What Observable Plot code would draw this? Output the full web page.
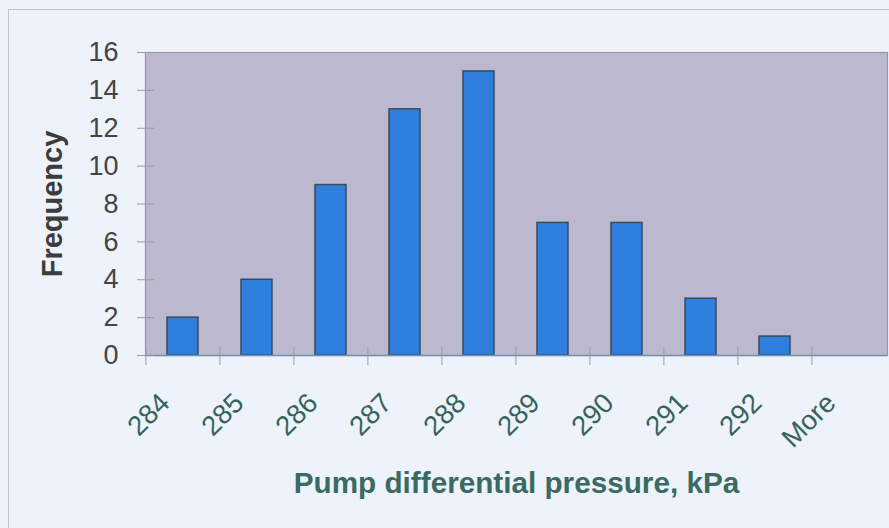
<!DOCTYPE html>
<html>
<head>
<meta charset="utf-8">
<script src="https://cdn.jsdelivr.net/npm/d3@7"></script>
<script src="https://cdn.jsdelivr.net/npm/@observablehq/plot@0.6"></script>
<style>
  html, body { margin: 0; padding: 0; background: #eef2fb; }
  #wrap { position: relative; width: 889px; height: 528px; overflow: hidden; }
  #border { position: absolute; left: 8px; top: 9px; width: 900px; height: 540px;
            border-left: 1.5px solid #c3c3cc; border-top: 1.5px solid #c3c3cc; pointer-events: none; }
</style>
</head>
<body>
<div id="wrap"><div id="border"></div></div>
<script>
const categories = ["284", "285", "286", "287", "288", "289", "290", "291", "292", "More"];
const frequencies = [2, 4, 9, 13, 15, 7, 7, 3, 1, 0];
const yTicks = [0, 2, 4, 6, 8, 10, 12, 14, 16];
const xTitle = "Pump differential pressure, kPa";
const yTitle = "Frequency";

const data = categories.map((c, i) => ({bin: c, freq: frequencies[i]}));

const W = 889, H = 528;
const mL = 145, mR = 2, mT = 52, mB = 173;
const step = (W - mL - mR) / categories.length;

const chart = Plot.plot({
  width: W,
  height: H,
  marginLeft: mL,
  marginRight: mR,
  marginTop: mT,
  marginBottom: mB,
  style: {background: "#eef2fb", fontFamily: "'Liberation Sans', Arial, sans-serif", overflow: "visible"},
  x: {domain: categories, paddingInner: 0.58, paddingOuter: 0.29, axis: null},
  y: {domain: [0, 16], axis: null},
  marks: [
    Plot.frame({fill: "#bcb8ce", stroke: "#9593b8", strokeWidth: 1.2}),
    Plot.barY(data, {x: "bin", y: "freq", fill: "#2f80de", stroke: "#3b4a58", strokeWidth: 1.5}),
    Plot.ruleY([0], {stroke: "#6f93b0", strokeWidth: 1.5}),
    // y tick marks crossing the axis
    Plot.axisY({ticks: yTicks, tickSize: 17, dx: 9, tickFormat: () => "", stroke: "#9a9aa6", label: null}),
    // y tick labels
    Plot.axisY({ticks: yTicks, tickSize: 0, tickPadding: 27, fontSize: 27, fill: "#444444", label: null}),
    // x tick marks at bin boundaries, crossing the axis
    Plot.axisX({tickSize: 18, dx: -step / 2, dy: -8, tickFormat: () => "", stroke: "#9a9aa6", label: null}),
    // x tick labels
    Plot.text(categories, {x: d => d, frameAnchor: "bottom", dy: 43, dx: -18, rotate: -45,
      textAnchor: "end", lineAnchor: "middle", fontSize: 27.5, fill: "#35635e"}),
    // axis titles
    Plot.text([xTitle], {frameAnchor: "bottom", dy: 128, lineAnchor: "middle", textAnchor: "middle",
      fontSize: 29.7, fontWeight: "bold", fill: "#3a6a64"}),
    Plot.text([yTitle], {frameAnchor: "left", dx: -93, rotate: -90, lineAnchor: "middle", textAnchor: "middle",
      fontSize: 29, fontWeight: "bold", fill: "#3c3c3c"})
  ]
});
document.getElementById("wrap").prepend(chart);
</script>
</body>
</html>
